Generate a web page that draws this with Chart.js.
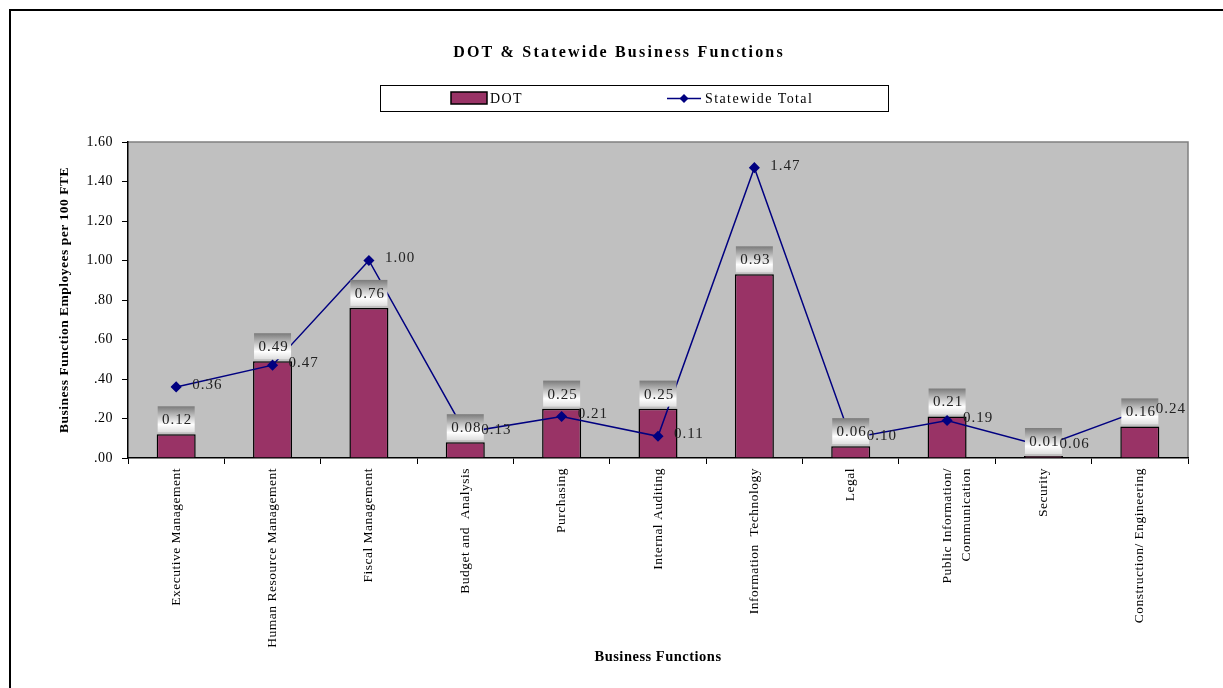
<!DOCTYPE html>
<html>
<head>
<meta charset="utf-8">
<script src="https://cdn.jsdelivr.net/npm/chart.js@4.4.1/dist/chart.umd.min.js"></script>
<style>
  html, body { margin: 0; padding: 0; background: #fff; }
  canvas { display: block; }
</style>
</head>
<body>
<canvas id="chart" width="1223" height="688"></canvas>
<script>
const categories = [
  "Executive Management",
  "Human Resource Management",
  "Fiscal Management",
  "Budget and  Analysis",
  "Purchasing",
  "Internal Auditing",
  "Information  Technology",
  "Legal",
  ["Public Information/", "Communication"],
  "Security",
  "Construction/ Engineering"
];
const dotValues = [0.12, 0.49, 0.76, 0.08, 0.25, 0.25, 0.93, 0.06, 0.21, 0.01, 0.16];
const statewideValues = [0.36, 0.47, 1.00, 0.13, 0.21, 0.11, 1.47, 0.10, 0.19, 0.06, 0.24];
const yTickLabels = [".00", ".20", ".40", ".60", ".80", "1.00", "1.20", "1.40", "1.60"];
const chartTitle = "DOT & Statewide Business Functions";

const SERIF = '"Liberation Serif", "Times New Roman", serif';
const BAR_COLOR = "#993366";
const LINE_COLOR = "#000080";

// frame, plot background, title and boxed legend
const backdrop = {
  id: "backdrop",
  beforeDraw(chart) {
    const { ctx, chartArea: a } = chart;
    ctx.save();
    ctx.fillStyle = "#fff";
    ctx.fillRect(0, 0, chart.width, chart.height);
    ctx.strokeStyle = "#000";
    ctx.lineWidth = 2;
    ctx.strokeRect(10, 10, chart.width + 20, chart.height + 20);

    ctx.fillStyle = "#c0c0c0";
    ctx.fillRect(a.left, a.top, a.right - a.left, a.bottom - a.top);
    ctx.strokeStyle = "#808080";
    ctx.lineWidth = 1.5;
    ctx.beginPath();
    ctx.moveTo(a.left, a.top);
    ctx.lineTo(a.right, a.top);
    ctx.lineTo(a.right, a.bottom);
    ctx.stroke();

    // title
    ctx.fillStyle = "#000";
    ctx.font = "bold 16px " + SERIF;
    ctx.letterSpacing = "2.2px";
    ctx.textAlign = "center";
    ctx.textBaseline = "middle";
    ctx.fillText(chartTitle, 619, 53);

    // legend
    ctx.fillStyle = "#fff";
    ctx.fillRect(380, 85, 508, 26);
    ctx.strokeStyle = "#000";
    ctx.lineWidth = 1;
    ctx.strokeRect(380.5, 85.5, 508, 26);
    const ds = chart.data.datasets;
    ctx.fillStyle = ds[0].backgroundColor;
    ctx.fillRect(451, 92, 36, 12);
    ctx.lineWidth = 1.5;
    ctx.strokeRect(451, 92, 36, 12);
    ctx.strokeStyle = ds[1].borderColor;
    ctx.beginPath();
    ctx.moveTo(667, 98.5);
    ctx.lineTo(701, 98.5);
    ctx.stroke();
    ctx.fillStyle = ds[1].borderColor;
    ctx.beginPath();
    ctx.moveTo(684, 94); ctx.lineTo(688.5, 98.5); ctx.lineTo(684, 103); ctx.lineTo(679.5, 98.5);
    ctx.closePath();
    ctx.fill();
    ctx.fillStyle = "#000";
    ctx.font = "14px " + SERIF;
    ctx.letterSpacing = "1.4px";
    ctx.textAlign = "left";
    ctx.fillText(ds[0].label, 490, 99);
    ctx.fillText(ds[1].label, 705, 99);
    ctx.restore();
    ctx.letterSpacing = "0.5px";
  }
};

// gradient value boxes over bars, plain values beside line points
const valueLabels = {
  id: "valueLabels",
  afterDatasetsDraw(chart) {
    const ctx = chart.ctx;
    const bars = chart.getDatasetMeta(0).data;
    const points = chart.getDatasetMeta(1).data;
    ctx.save();
    ctx.font = "15px " + SERIF;
    ctx.letterSpacing = "1px";
    ctx.textBaseline = "middle";
    bars.forEach((bar, i) => {
      const w = 37, h = 26;
      const x0 = bar.x - w / 2, y1 = bar.y - 2, y0 = y1 - h;
      const g = ctx.createLinearGradient(0, y0, 0, y1);
      g.addColorStop(0, "#7a7a7a");
      g.addColorStop(0.7, "#ffffff");
      g.addColorStop(1, "#dedede");
      ctx.fillStyle = g;
      ctx.fillRect(x0, y0, w, h);
      ctx.fillStyle = "#222";
      ctx.textAlign = "center";
      ctx.fillText(dotValues[i].toFixed(2), bar.x + 1, y0 + 14);
    });
    points.forEach((pt, i) => {
      ctx.fillStyle = "#222";
      ctx.textAlign = "left";
      ctx.fillText(statewideValues[i].toFixed(2), pt.x + 16, pt.y - 2);
    });
    ctx.restore();
  }
};

new Chart(document.getElementById("chart"), {
  type: "bar",
  data: {
    labels: categories,
    datasets: [
      {
        label: "DOT",
        data: dotValues,
        backgroundColor: BAR_COLOR,
        borderColor: "#000",
        borderWidth: 1.5,
        barPercentage: 0.405,
        categoryPercentage: 1,
        order: 2
      },
      {
        type: "line",
        label: "Statewide Total",
        data: statewideValues,
        borderColor: LINE_COLOR,
        backgroundColor: LINE_COLOR,
        borderWidth: 1.5,
        pointStyle: "rectRot",
        pointRadius: 4.5,
        pointBackgroundColor: LINE_COLOR,
        pointBorderColor: LINE_COLOR,
        tension: 0,
        order: 1
      }
    ]
  },
  options: {
    responsive: false,
    animation: false,
    events: [],
    layout: { padding: { top: 142, left: 0, right: 35, bottom: 0 } },
    plugins: {
      legend: { display: false },
      title: { display: false },
      tooltip: { enabled: false }
    },
    scales: {
      x: {
        grid: { offset: true, drawOnChartArea: false, tickLength: 6, color: "#000" },
        border: { color: "#000", width: 1.5 },
        ticks: {
          minRotation: 90,
          maxRotation: 90,
          autoSkip: false,
          padding: 4,
          color: "#000",
          font: { family: SERIF, size: 13.5, lineHeight: 1.4 }
        },
        title: {
          display: true,
          text: "Business Functions",
          color: "#000",
          font: { family: SERIF, size: 14.5, weight: "bold" },
          padding: { top: 0, bottom: 22 }
        },
        afterFit(scale) { scale.height = 230; }
      },
      y: {
        min: 0,
        max: 1.6,
        grid: { drawOnChartArea: false, tickLength: 6, color: "#000" },
        border: { color: "#000", width: 1.5 },
        ticks: {
          stepSize: 0.2,
          padding: 9,
          color: "#000",
          font: { family: SERIF, size: 14 },
          callback: (v, i) => yTickLabels[i]
        },
        title: {
          display: true,
          text: "Business Function Employees per 100 FTE",
          color: "#000",
          font: { family: SERIF, size: 13.5, weight: "bold" },
          padding: { top: 56, bottom: 0 }
        },
        afterFit(scale) { scale.width = 128; }
      }
    }
  },
  plugins: [backdrop, valueLabels]
});
</script>
</body>
</html>
